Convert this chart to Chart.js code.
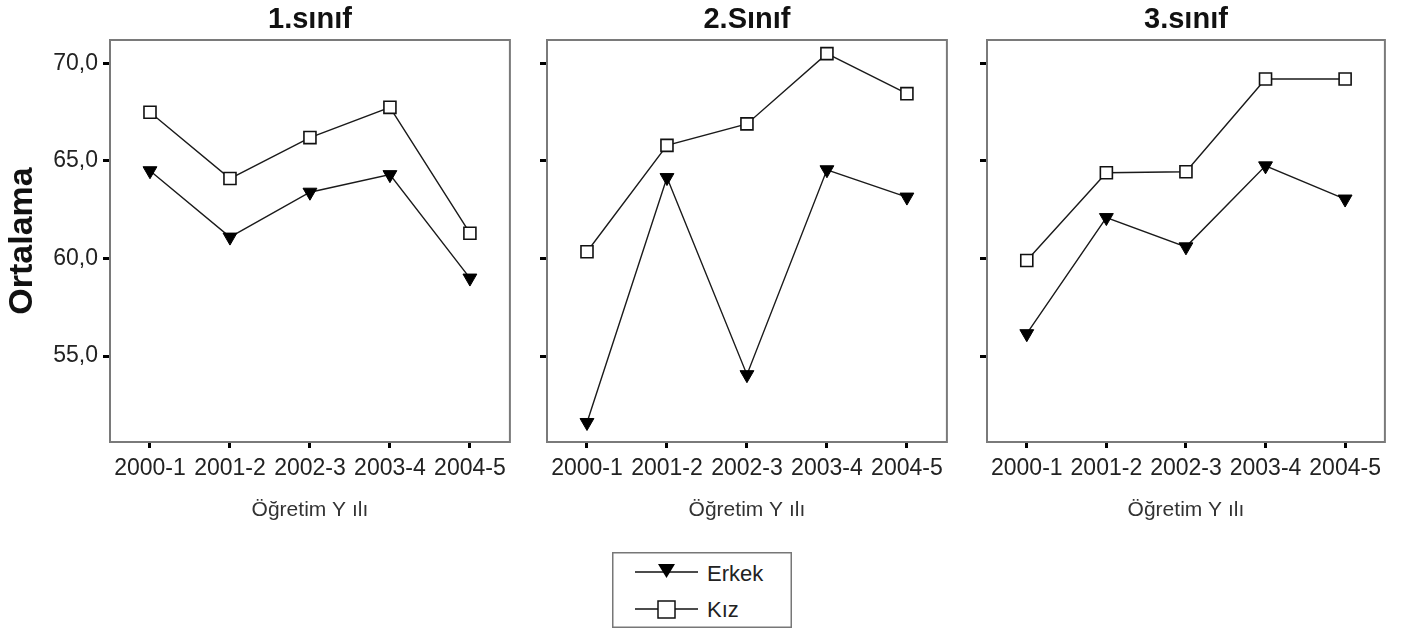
<!DOCTYPE html>
<html>
<head>
<meta charset="utf-8">
<script src="https://cdn.jsdelivr.net/npm/chart.js@4.4.1/dist/chart.umd.min.js"></script>
<style>
  body { margin: 0; background: #fff; width: 1401px; height: 633px; overflow: hidden; position: relative; font-family: "Liberation Sans", Arial, sans-serif; }
  .panel { position: absolute; top: 0; height: 540px; }
  #p1 { left: 0; width: 520px; }
  #p2 { left: 512px; width: 445px; }
  #p3 { left: 952px; width: 443px; }
  #legend { position: absolute; left: 612px; top: 552px; }
</style>
</head>
<body>
<div class="panel" id="p1"><canvas id="c1"></canvas></div>
<div class="panel" id="p2"><canvas id="c2"></canvas></div>
<div class="panel" id="p3"><canvas id="c3"></canvas></div>

<svg id="legend" width="180" height="76" font-family="Liberation Sans, Arial, sans-serif">
  <rect x="0.75" y="0.75" width="178.5" height="74.5" fill="#fff" stroke="#777" stroke-width="1.5"/>
  <line x1="23" y1="20" x2="86" y2="20" stroke="#111" stroke-width="1.5"/>
  <polygon points="46,12 63,12 54.5,26" fill="#000"/>
  <text x="95" y="29" font-size="22" fill="#222">Erkek</text>
  <line x1="23" y1="57" x2="86" y2="57" stroke="#111" stroke-width="1.5"/>
  <rect x="46" y="49" width="17" height="17" fill="#fff" stroke="#111" stroke-width="1.5"/>
  <text x="95" y="65" font-size="22" fill="#222">Kız</text>
</svg>

<script>
// values
const years = ['2000-1', '2001-2', '2002-3', '2003-4', '2004-5'];
const panelTitles = ['1.sınıf', '2.Sınıf', '3.sınıf'];
const erkek1 = [64.5, 61.1, 63.4, 64.3, 59.0];
const kiz1 = [67.5, 64.1, 66.2, 67.75, 61.3];
const erkek2 = [51.6, 64.15, 54.05, 64.55, 63.15];
const kiz2 = [60.35, 65.8, 66.9, 70.5, 68.45];
const erkek3 = [56.15, 62.1, 60.6, 64.75, 63.05];
const kiz3 = [59.9, 64.4, 64.45, 69.2, 69.2];
const yTicks = [55, 60, 65, 70];
const yMin = 50.6;
const yMax = 71.2;

const FONT = '"Liberation Sans", Arial, sans-serif';

// frame round the plot area + panel title
const panelFrame = {
  id: 'panelFrame',
  beforeDatasetsDraw(chart, args, opts) {
    const { ctx, chartArea: a } = chart;
    ctx.save();
    ctx.strokeStyle = '#7a7a7a';
    ctx.lineWidth = 2;
    ctx.strokeRect(a.left, a.top, a.right - a.left, a.bottom - a.top);
    ctx.fillStyle = '#111';
    ctx.font = 'bold 29px ' + FONT;
    ctx.textAlign = 'center';
    ctx.textBaseline = 'middle';
    ctx.fillText(opts.text, (a.left + a.right) / 2, 20);
    ctx.restore();
  }
};

function makePanel(canvasId, title, erkek, kiz, first) {
  const ctx = document.getElementById(canvasId).getContext('2d');
  return new Chart(ctx, {
    type: 'line',
    data: {
      labels: years,
      datasets: [
        {
          label: 'Erkek',
          data: erkek,
          borderColor: '#1a1a1a',
          borderWidth: 1.4,
          pointStyle: 'triangle',
          pointRotation: 180,
          pointRadius: 8,
          pointBackgroundColor: '#000',
          pointBorderColor: '#000',
          pointBorderWidth: 1,
          tension: 0
        },
        {
          label: 'Kız',
          data: kiz,
          borderColor: '#1a1a1a',
          borderWidth: 1.4,
          pointStyle: 'rect',
          pointRadius: 8.5,
          pointBackgroundColor: '#fff',
          pointBorderColor: '#111',
          pointBorderWidth: 1.6,
          tension: 0
        }
      ]
    },
    options: {
      responsive: true,
      maintainAspectRatio: false,
      animation: false,
      events: [],
      layout: { padding: { top: 40, right: 2, bottom: 0, left: 0 } },
      plugins: {
        legend: { display: false },
        tooltip: { enabled: false },
        title: { display: false },
        panelFrame: { text: title }
      },
      scales: {
        x: {
          offset: true,
          border: { display: false },
          grid: { drawOnChartArea: false, drawTicks: true, tickLength: 6, tickWidth: 3, tickColor: '#000' },
          ticks: {
            autoSkip: false,
            maxRotation: 0,
            minRotation: 0,
            padding: 7,
            font: { family: FONT, size: 23 },
            color: '#222'
          },
          title: {
            display: true,
            text: 'Öğretim Y ılı',
            font: { family: FONT, size: 21 },
            color: '#333',
            padding: { top: 0, bottom: 17 }
          },
          afterFit: s => { s.height = 98; }
        },
        y: {
          min: yMin,
          max: yMax,
          border: { display: false },
          grid: { drawOnChartArea: false, drawTicks: true, tickLength: 7, tickWidth: 3, tickColor: '#000' },
          afterBuildTicks: s => { s.ticks = yTicks.map(v => ({ value: v })); },
          ticks: {
            padding: 5,
            font: { family: FONT, size: 23 },
            color: first ? '#222' : 'rgba(0,0,0,0)',
            callback: v => v.toFixed(1).replace('.', ',')
          },
          title: {
            display: first,
            text: 'Ortalama',
            font: { family: FONT, size: 34, weight: 'bold' },
            color: '#111',
            padding: { top: 2, bottom: 0 }
          },
          afterFit: s => { s.width = first ? 110 : 35; }
        }
      }
    },
    plugins: [panelFrame]
  });
}

makePanel('c1', panelTitles[0], erkek1, kiz1, true);
makePanel('c2', panelTitles[1], erkek2, kiz2, false);
makePanel('c3', panelTitles[2], erkek3, kiz3, false);
</script>
</body>
</html>
